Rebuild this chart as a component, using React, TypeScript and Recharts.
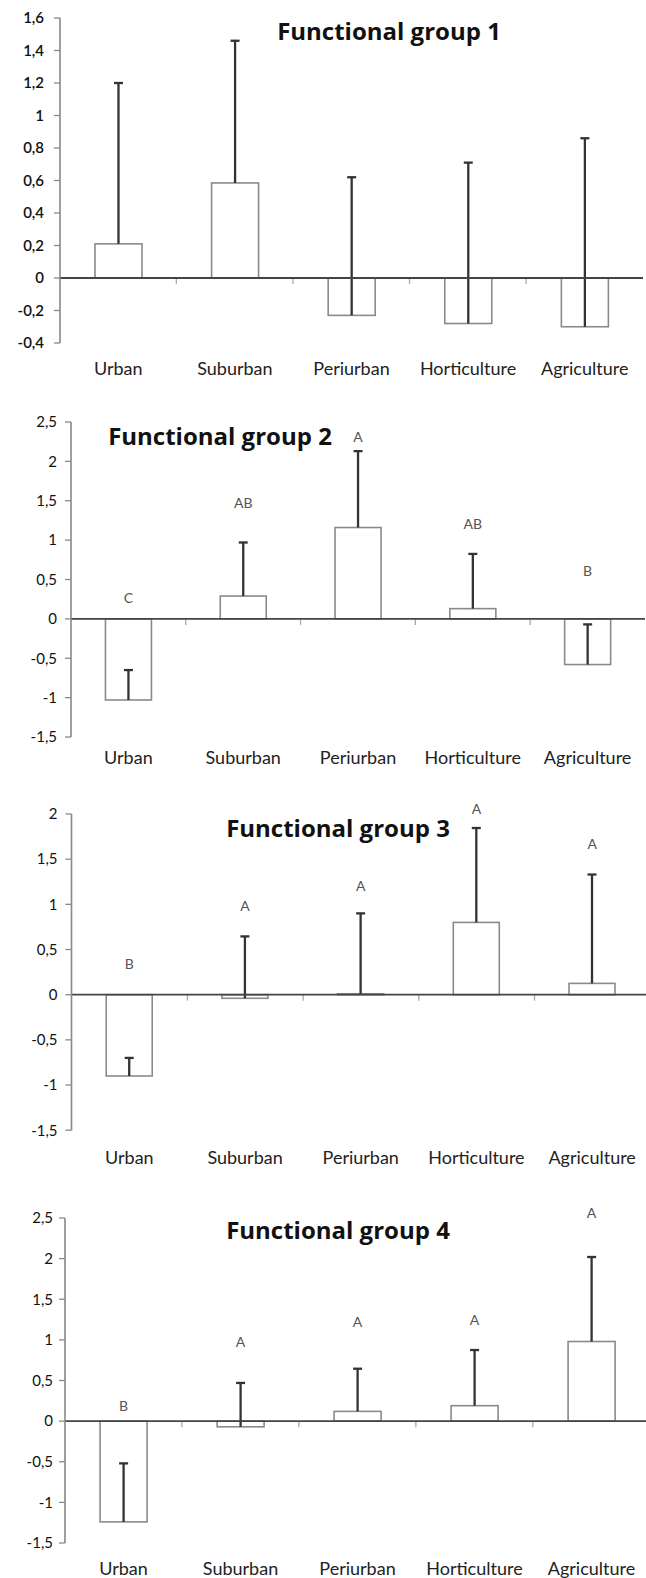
import { ComposedChart, Bar, Line, XAxis, YAxis, ReferenceLine } from "recharts";

const categories = ["Urban", "Suburban", "Periurban", "Horticulture", "Agriculture"];

// group means and the top of the (upper) error bar
const g1Mean = [0.21, 0.585, -0.23, -0.28, -0.3];
const g1Upper = [1.2, 1.46, 0.62, 0.71, 0.86];
const g2Mean = [-1.03, 0.29, 1.16, 0.13, -0.58];
const g2Upper = [-0.65, 0.97, 2.13, 0.825, -0.07];
const g3Mean = [-0.9, -0.04, 0.01, 0.8, 0.125];
const g3Upper = [-0.7, 0.645, 0.9, 1.845, 1.33];
const g4Mean = [-1.24, -0.07, 0.12, 0.19, 0.98];
const g4Upper = [-0.52, 0.47, 0.645, 0.875, 2.02];

// significance letters and where their baseline sits on the y scale
const g2Letters = ["C", "AB", "A", "AB", "B"];
const g2LetterPos = [0.2, 1.41, 2.25, 1.14, 0.55];
const g3Letters = ["B", "A", "A", "A", "A"];
const g3LetterPos = [0.28, 0.93, 1.15, 2.0, 1.61];
const g4Letters = ["B", "A", "A", "A", "A"];
const g4LetterPos = [0.12, 0.91, 1.16, 1.18, 2.5];

const ticks1 = [-0.4, -0.2, 0, 0.2, 0.4, 0.6, 0.8, 1, 1.2, 1.4, 1.6];
const ticks2 = [-1.5, -1, -0.5, 0, 0.5, 1, 1.5, 2, 2.5];
const ticks3 = [-1.5, -1, -0.5, 0, 0.5, 1, 1.5, 2];
const ticks4 = [-1.5, -1, -0.5, 0, 0.5, 1, 1.5, 2, 2.5];

const titles = ["Functional group 1", "Functional group 2", "Functional group 3", "Functional group 4"];

const FONT = "Lato, 'Open Sans', sans-serif";
const TITLE_FONT = "'Open Sans', Lato, sans-serif";
const W = 660;
const MT = 30;
const XH = 44;
const GAP = 0.3;

const BarShape = (p: any) => {
  const { x, y, width, height, index, payload } = p;
  const top = Math.min(y, y + height);
  const h = Math.abs(height);
  const zeroY = payload.mean >= 0 ? top + h : top;
  const band = width / (1 - 2 * GAP);
  const edge = x - band * GAP;
  return (
    <g>
      <rect x={x} y={top} width={width} height={h} fill="#fff" stroke="#8a8a8a" strokeWidth={1.6} />
      {index > 0 && <line x1={edge} x2={edge} y1={zeroY} y2={zeroY + 6} stroke="#aaa" strokeWidth={1.3} />}
    </g>
  );
};

const ErrShape = (p: any) => {
  const { x, y, width, height } = p;
  const cx = x + width / 2;
  const top = Math.min(y, y + height);
  const bot = Math.max(y, y + height);
  return (
    <g stroke="#333" strokeWidth={2.3}>
      <line x1={cx} x2={cx} y1={top} y2={bot} />
      <line x1={cx - 4.5} x2={cx + 4.5} y1={top} y2={top} />
    </g>
  );
};

const LetterDot = (p: any) => {
  const { cx, cy, payload, index } = p;
  if (cy == null || !payload.letter) return <g key={index} />;
  return (
    <text key={index} x={cx} y={cy} textAnchor="middle" fontSize={14} fill="#555" fontFamily={FONT}>
      {payload.letter}
    </text>
  );
};

type Cfg = {
  plotTop: number;
  plotBottom: number;
  left: number;
  right: number;
  labelGap: number;
  tickMargin: number;
  tickWeight: number;
};

const cfgs: Cfg[] = [
  { plotTop: 18.3, plotBottom: 343.3, left: 60, right: 643, labelGap: 25, tickMargin: 10, tickWeight: 600 },
  { plotTop: 421.7, plotBottom: 736.7, left: 71, right: 645, labelGap: 20, tickMargin: 8, tickWeight: 400 },
  { plotTop: 814.3, plotBottom: 1130.5, left: 71.5, right: 650, labelGap: 27, tickMargin: 8, tickWeight: 400 },
  { plotTop: 1217.7, plotBottom: 1542.7, left: 65, right: 650, labelGap: 25, tickMargin: 6, tickWeight: 400 },
];

const titlePos = [
  { x: 389, y: 39.5 },
  { x: 220, y: 444.5 },
  { x: 338, y: 837 },
  { x: 338, y: 1238.5 },
];

function Panel({ cfg, mean, upper, letters, letterPos, ticks }: any) {
  const data = categories.map((name, i) => ({
    name,
    mean: mean[i],
    err: [mean[i], upper[i]],
    letter: letters ? letters[i] : "",
    pos: letterPos ? letterPos[i] : null,
  }));
  const plotH = cfg.plotBottom - cfg.plotTop;
  return (
    <div style={{ position: "absolute", top: cfg.plotTop - MT, left: 0 }}>
      <ComposedChart
        width={W}
        height={MT + plotH + XH}
        data={data}
        margin={{ top: MT, right: W - cfg.right, bottom: 0, left: 0 }}
        barCategoryGap={`${GAP * 100}%`}
      >
        <XAxis
          xAxisId="a"
          dataKey="name"
          axisLine={false}
          tickLine={false}
          tickSize={0}
          tickMargin={0}
          height={XH}
          interval={0}
          tick={(t: any) => (
            <text x={t.x} y={t.y + cfg.labelGap} textAnchor="middle" dominantBaseline="central" fontSize={18} fill="#222" fontFamily={FONT}>
              {t.payload.value}
            </text>
          )}
        />
        <XAxis xAxisId="b" dataKey="name" hide />
        <YAxis
          type="number"
          width={cfg.left}
          domain={[ticks[0], ticks[ticks.length - 1]]}
          ticks={ticks}
          interval={0}
          axisLine={{ stroke: "#888", strokeWidth: 1.6 }}
          tickLine={{ stroke: "#888", strokeWidth: 1.3 }}
          tickSize={6}
          tickMargin={cfg.tickMargin}
          tickFormatter={(v: number) => String(v).replace(".", ",")}
          tick={{ fontSize: 15, fill: "#111", fontFamily: FONT, fontWeight: cfg.tickWeight }}
        />
        <Bar xAxisId="a" dataKey="mean" shape={BarShape} isAnimationActive={false} />
        <ReferenceLine xAxisId="a" y={0} stroke="#444" strokeWidth={1.8} />
        <Bar xAxisId="b" dataKey="err" shape={ErrShape} isAnimationActive={false} />
        {letters && (
          <Line xAxisId="a" dataKey="pos" stroke="none" strokeWidth={0} dot={LetterDot} activeDot={false} isAnimationActive={false} />
        )}
      </ComposedChart>
    </div>
  );
}

export default function App() {
  return (
    <div style={{ position: "relative", width: 646, height: 1578, overflow: "hidden", background: "#fff" }}>
      <style>{"body{margin:0}"}</style>
      <Panel cfg={cfgs[0]} mean={g1Mean} upper={g1Upper} ticks={ticks1} />
      <Panel cfg={cfgs[1]} mean={g2Mean} upper={g2Upper} letters={g2Letters} letterPos={g2LetterPos} ticks={ticks2} />
      <Panel cfg={cfgs[2]} mean={g3Mean} upper={g3Upper} letters={g3Letters} letterPos={g3LetterPos} ticks={ticks3} />
      <Panel cfg={cfgs[3]} mean={g4Mean} upper={g4Upper} letters={g4Letters} letterPos={g4LetterPos} ticks={ticks4} />
      <svg width={646} height={1578} style={{ position: "absolute", top: 0, left: 0, pointerEvents: "none" }}>
        {titles.map((t, i) => (
          <text key={t} x={titlePos[i].x} y={titlePos[i].y} textAnchor="middle" fontSize={24} fontWeight={700} fill="#111" fontFamily={TITLE_FONT}>
            {t}
          </text>
        ))}
      </svg>
    </div>
  );
}
